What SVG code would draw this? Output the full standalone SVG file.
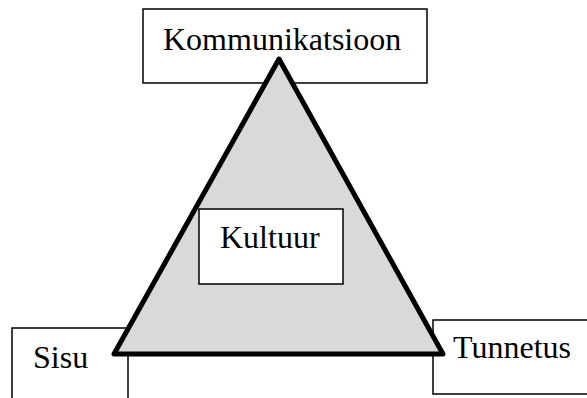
<svg xmlns="http://www.w3.org/2000/svg" width="587" height="398" viewBox="0 0 587 398">
<style>
.box{fill:#ffffff;stroke:#000000;stroke-width:1.5}
.lbl{font-family:"Liberation Serif","Times New Roman",serif;font-size:32px;fill:#000000}
.tri{fill:#d9d9d9;stroke:#000000;stroke-width:5;stroke-linejoin:round}
</style>
<rect width="587" height="398" fill="#ffffff"/>
<g id="kommunikatsioon">
<rect class="box" x="143" y="9" width="284" height="74"/>
<text class="lbl" x="163" y="50">Kommunikatsioon</text>
</g>
<g id="sisu">
<rect class="box" x="12" y="328" width="116" height="100"/>
<text class="lbl" x="33" y="368">Sisu</text>
</g>
<g id="tunnetus">
<rect class="box" x="433" y="320" width="180" height="74"/>
<text class="lbl" x="453" y="358">Tunnetus</text>
</g>
<g id="connectors">
<polygon class="tri" points="279,59 114,354 443,354"/>
</g>
<g id="kultuur">
<rect class="box" x="199" y="209" width="144" height="75"/>
<text class="lbl" x="220" y="248">Kultuur</text>
</g>
</svg>
